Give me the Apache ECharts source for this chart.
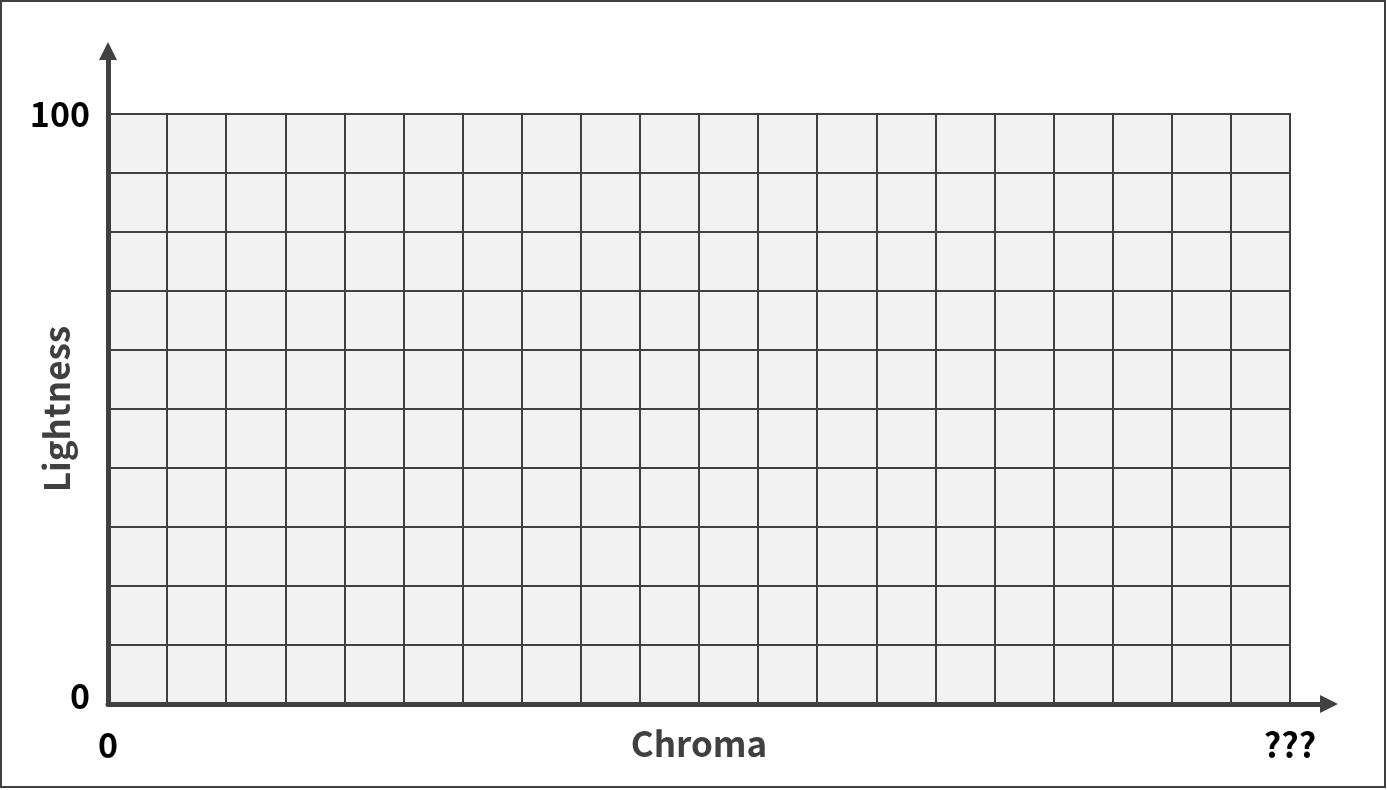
<!DOCTYPE html>
<html>
<head>
<meta charset="utf-8">
<script src="https://cdn.jsdelivr.net/npm/echarts@6/dist/echarts.min.js"></script>
<style>
html,body{margin:0;padding:0;background:#fff;}
#chart{width:1387px;height:790px;}
</style>
</head>
<body>
<div id="chart"></div>
<script>
// Axis ranges and ticks
const chromaRange = [0, 20];      // 20 columns
const chromaStep = 1;
const lightnessRange = [0, 100];  // 10 rows
const lightnessStep = 10;
const xTickLabels = {0: '0', 20: '???'};
const yTickLabels = {0: '0', 100: '100'};
const xAxisTitle = 'Chroma';
const yAxisTitle = 'Lightness';

const FONT = '"Noto Sans CJK JP", "Noto Sans", sans-serif';
const DARK = '#404040';

const chart = echarts.init(document.getElementById('chart'));
chart.setOption({
  animation: false,
  backgroundColor: '#ffffff',
  graphic: [{
    type: 'rect',
    shape: {x: 1, y: 1, width: 1384, height: 786},
    style: {fill: 'none', stroke: DARK, lineWidth: 2},
    silent: true
  }],
  grid: [
    {left: 108, right: 97, top: 114, bottom: 86, show: true, containLabel: false,
     outerBoundsMode: 'none',
     backgroundColor: '#f2f2f2', borderColor: DARK, borderWidth: 2},
    {left: 108, right: 58, top: 51, bottom: 86, show: false, containLabel: false,
     outerBoundsMode: 'none'}
  ],
  xAxis: [
    {
      type: 'value', gridIndex: 0,
      min: chromaRange[0], max: chromaRange[1], interval: chromaStep,
      axisLine: {show: false}, axisTick: {show: false},
      splitLine: {show: true, lineStyle: {color: DARK, width: 2}},
      axisLabel: {
        show: true, margin: 24, color: '#000', fontSize: 34, fontWeight: 'bold',
        fontFamily: FONT, hideOverlap: false,
        formatter: v => (xTickLabels[v] !== undefined ? xTickLabels[v] : '')
      },
      name: xAxisTitle, nameLocation: 'middle', nameGap: 22, nameMoveOverlap: false,
      nameTextStyle: {color: DARK, fontSize: 35, fontWeight: 'bold', fontFamily: FONT,
                      verticalAlign: 'top'}
    },
    {
      type: 'value', gridIndex: 1, min: 0, max: 1,
      axisLine: {show: true, symbol: ['none', 'triangle'], symbolSize: [18, 18],
                 lineStyle: {color: DARK, width: 5}},
      axisTick: {show: false}, axisLabel: {show: false}, splitLine: {show: false}
    }
  ],
  yAxis: [
    {
      type: 'value', gridIndex: 0,
      min: lightnessRange[0], max: lightnessRange[1], interval: lightnessStep,
      axisLine: {show: false}, axisTick: {show: false},
      splitLine: {show: true, lineStyle: {color: DARK, width: 2}},
      axisLabel: {
        show: true, margin: 18, color: '#000', fontSize: 34, fontWeight: 'bold',
        fontFamily: FONT,
        formatter: v => {
          if (v === 0) return '{z|' + yTickLabels[0] + '}';
          return yTickLabels[v] !== undefined ? yTickLabels[v] : '';
        },
        rich: {z: {fontSize: 34, fontWeight: 'bold', fontFamily: FONT, color: '#000',
                   padding: [0, 0, 16, 0]}}
      },
      name: yAxisTitle, nameLocation: 'middle', nameGap: 34, nameRotate: 90,
      nameMoveOverlap: false,
      nameTextStyle: {color: DARK, fontSize: 35, fontWeight: 'bold', fontFamily: FONT}
    },
    {
      type: 'value', gridIndex: 1, min: 0, max: 1,
      axisLine: {show: true, symbol: ['none', 'triangle'], symbolSize: [18, 18],
                 lineStyle: {color: DARK, width: 5}},
      axisTick: {show: false}, axisLabel: {show: false}, splitLine: {show: false}
    }
  ],
  series: []
});
</script>
</body>
</html>
